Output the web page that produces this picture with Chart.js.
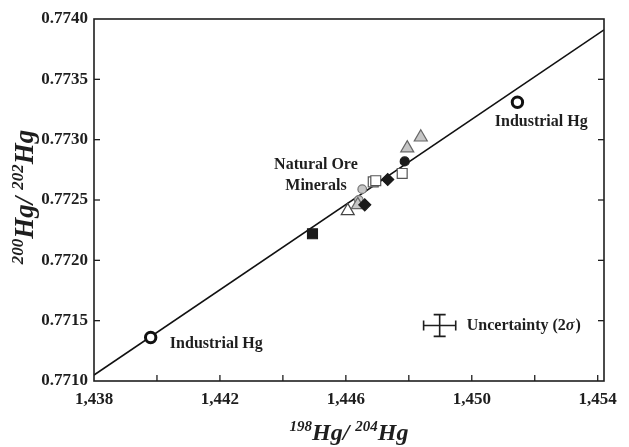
<!DOCTYPE html>
<html><head><meta charset="utf-8">
<script src="https://cdn.jsdelivr.net/npm/chart.js@4"></script>
<style>html,body{margin:0;padding:0;background:#fff}#wrap{width:629px;height:447px}</style>
</head><body><div id="wrap"><canvas id="c" width="629" height="447"></canvas></div>
<script>
// ---- data ----
const xTickValues = [1.438,1.440,1.442,1.444,1.446,1.448,1.450,1.452,1.454];
const xTickLabels = ['1,438','','1,442','','1,446','','1,450','','1,454'];
const yTickValues = [0.7710,0.7715,0.7720,0.7725,0.7730,0.7735,0.7740];
const yTickLabels = ['0.7710','0.7715','0.7720','0.7725','0.7730','0.7735','0.7740'];

const lineX = [1.438, 1.4542];
const lineY = [0.77105, 0.77391];

const industrialX = [1.43980, 1.45145];
const industrialY = [0.77136, 0.77331];

const blackSquareX = [1.44494];           const blackSquareY = [0.77222];
const hollowTriangleX = [1.44606];        const hollowTriangleY = [0.77241];
const grayTriangleX = [1.44638, 1.44795, 1.44838]; const grayTriangleY = [0.77246, 0.77293, 0.77302];
const blackDiamondX = [1.44660, 1.44733]; const blackDiamondY = [0.77246, 0.77267];
const grayCircleX = [1.44641, 1.44652];   const grayCircleY = [0.77250, 0.77259];
const hollowSquareX = [1.44687, 1.44695, 1.44779]; const hollowSquareY = [0.77265, 0.77266, 0.77272];
const blackCircleX = [1.44787];           const blackCircleY = [0.77282];

const uncX = 1.44898, uncY = 0.77146, uncErrX = 0.00051, uncErrY = 0.00009;

const labelIndustrialLow = {x: 1.44041, y: 0.77131, text: 'Industrial Hg'};
const labelIndustrialHigh = {x: 1.45073, y: 0.77315, text: 'Industrial Hg'};
const labelNatural = {x: 1.44505, y: [0.77279, 0.77262], text: ['Natural Ore', 'Minerals']};
const labelUnc = {x: 1.44984, y: 0.77146};

const xMin = 1.438, xMax = 1.4542, yMin = 0.7710, yMax = 0.7740;

// ---- helpers ----
const pts = (xs, ys) => xs.map((x, i) => ({x, y: ys[i]}));
const INK = '#1e1e1e';
const SERIF = '"Liberation Serif", "DejaVu Serif", serif';

function drawRich(ctx, parts, x, y, bigPx, smallPx, rise) {
  const big = 'italic bold ' + bigPx + 'px ' + SERIF, small = 'italic bold ' + smallPx + 'px ' + SERIF;
  let w = 0;
  parts.forEach(p => { ctx.font = p.sup ? small : big; p.w = ctx.measureText(p.t).width; w += p.w; });
  let cx = x - w / 2;
  ctx.textAlign = 'left'; ctx.textBaseline = 'alphabetic';
  parts.forEach(p => { ctx.font = p.sup ? small : big; ctx.fillText(p.t, cx, p.sup ? y - rise : y); cx += p.w; });
}

const framePlugin = {
  id: 'frame',
  afterDatasetsDraw(chart) {
    const {ctx, chartArea: a, scales: {x, y}} = chart;
    ctx.save();
    ctx.strokeStyle = INK; ctx.fillStyle = INK;
    ctx.lineWidth = 1.6;
    ctx.strokeRect(a.left, a.top, a.right - a.left, a.bottom - a.top);
    ctx.lineWidth = 1.3;
    xTickValues.forEach(v => {
      const px = x.getPixelForValue(v);
      if (px <= a.left + 1 || px >= a.right - 1) return;
      ctx.beginPath(); ctx.moveTo(px, a.bottom); ctx.lineTo(px, a.bottom - 6); ctx.stroke();
    });
    yTickValues.forEach(v => {
      const py = y.getPixelForValue(v);
      if (py <= a.top + 1 || py >= a.bottom - 1) return;
      ctx.beginPath(); ctx.moveTo(a.left, py); ctx.lineTo(a.left + 6, py); ctx.stroke();
      ctx.beginPath(); ctx.moveTo(a.right, py); ctx.lineTo(a.right - 6, py); ctx.stroke();
    });
    // uncertainty cross
    const cx = x.getPixelForValue(uncX), cy = y.getPixelForValue(uncY);
    const x0 = x.getPixelForValue(uncX - uncErrX), x1 = x.getPixelForValue(uncX + uncErrX);
    const y0 = y.getPixelForValue(uncY - uncErrY), y1 = y.getPixelForValue(uncY + uncErrY);
    ctx.lineWidth = 1.6;
    ctx.beginPath();
    ctx.moveTo(x0, cy); ctx.lineTo(x1, cy);
    ctx.moveTo(cx, y0); ctx.lineTo(cx, y1);
    ctx.moveTo(x0, cy - 5); ctx.lineTo(x0, cy + 5);
    ctx.moveTo(x1, cy - 5); ctx.lineTo(x1, cy + 5);
    ctx.moveTo(cx - 6, y0); ctx.lineTo(cx + 6, y0);
    ctx.moveTo(cx - 6, y1); ctx.lineTo(cx + 6, y1);
    ctx.stroke();
    // annotations
    ctx.font = 'bold 16px ' + SERIF;
    ctx.textBaseline = 'middle';
    ctx.textAlign = 'left';
    ctx.fillText(labelIndustrialLow.text, x.getPixelForValue(labelIndustrialLow.x), y.getPixelForValue(labelIndustrialLow.y));
    ctx.fillText(labelIndustrialHigh.text, x.getPixelForValue(labelIndustrialHigh.x), y.getPixelForValue(labelIndustrialHigh.y));
    ctx.textAlign = 'center';
    labelNatural.text.forEach((t, i) => ctx.fillText(t, x.getPixelForValue(labelNatural.x), y.getPixelForValue(labelNatural.y[i])));
    ctx.textAlign = 'left';
    let ux = x.getPixelForValue(labelUnc.x), uy = y.getPixelForValue(labelUnc.y);
    const p1 = 'Uncertainty (2';
    ctx.fillText(p1, ux, uy); ux += ctx.measureText(p1).width;
    ctx.font = 'italic bold 16px ' + SERIF;
    ctx.fillText('σ', ux, uy); ux += ctx.measureText('σ').width;
    ctx.font = 'bold 16px ' + SERIF;
    ctx.fillText(')', ux + 1, uy);
    // axis titles
    drawRich(ctx, [{t:'198', sup:true},{t:'Hg/ '},{t:'204', sup:true},{t:'Hg'}], (a.left + a.right) / 2, 440, 24, 15, 9);
    ctx.save();
    ctx.translate(33, 197);
    ctx.rotate(-Math.PI / 2);
    drawRich(ctx, [{t:'200', sup:true},{t:'Hg/ '},{t:'202', sup:true},{t:'Hg'}], 0, 0, 27, 17, 10);
    ctx.restore();
    ctx.restore();
  }
};

const mk = (label, data, style, fill, border, radius, order, bw) => ({
  label, data, pointStyle: style, backgroundColor: fill, borderColor: border,
  pointRadius: radius, pointBorderWidth: bw || 1.2, showLine: false, order
});

new Chart(document.getElementById('c'), {
  type: 'scatter',
  data: {
    datasets: [
      {label: 'fit', data: pts(lineX, lineY), showLine: true, borderColor: '#111', borderWidth: 1.6,
       pointRadius: 0, fill: false, order: 20},
      mk('Industrial Hg', pts(industrialX, industrialY), 'circle', '#ffffff', '#111', 5.2, 1, 3),
      mk('blackSquare', pts(blackSquareX, blackSquareY), 'rect', '#1a1a1a', '#1a1a1a', 7, 2),
      mk('hollowTriangle', pts(hollowTriangleX, hollowTriangleY), 'triangle', '#ffffff', '#444', 7.5, 9),
      mk('grayCircle', pts(grayCircleX, grayCircleY), 'circle', '#c6c6c6', '#777', 4.3, 10),
      mk('grayTriangle', pts(grayTriangleX, grayTriangleY), 'triangle', '#c6c6c6', '#666', 7.5, 8),
      mk('blackDiamond', pts(blackDiamondX, blackDiamondY), 'rectRot', '#1a1a1a', '#1a1a1a', 6, 3),
      mk('hollowSquare', pts(hollowSquareX, hollowSquareY), 'rect', '#ffffff', '#555', 7, 6),
      mk('blackCircle', pts(blackCircleX, blackCircleY), 'circle', '#1a1a1a', '#1a1a1a', 4.5, 5)
    ]
  },
  options: {
    responsive: false, animation: false, devicePixelRatio: 1,
    layout: {padding: {top: 19, right: 25, left: 0, bottom: 0}},
    plugins: {legend: {display: false}, tooltip: {enabled: false}},
    scales: {
      x: {
        type: 'linear', min: xMin, max: xMax,
        afterBuildTicks: s => { s.ticks = xTickValues.map(v => ({value: v})); },
        afterFit: s => { s.height = 66; },
        grid: {display: false, drawTicks: false}, border: {display: false},
        ticks: {autoSkip: false, maxRotation: 0, padding: 8, color: INK,
          font: {family: SERIF, size: 17, weight: 'bold'},
          callback: (v, i) => xTickLabels[i]}
      },
      y: {
        type: 'linear', min: yMin, max: yMax,
        afterBuildTicks: s => { s.ticks = yTickValues.map(v => ({value: v})); },
        afterFit: s => { s.width = 94; },
        grid: {display: false, drawTicks: false}, border: {display: false},
        ticks: {autoSkip: false, padding: 6, color: INK,
          font: {family: SERIF, size: 17, weight: 'bold'},
          callback: (v, i) => yTickLabels[i]}
      }
    }
  },
  plugins: [framePlugin]
});
</script></body></html>
